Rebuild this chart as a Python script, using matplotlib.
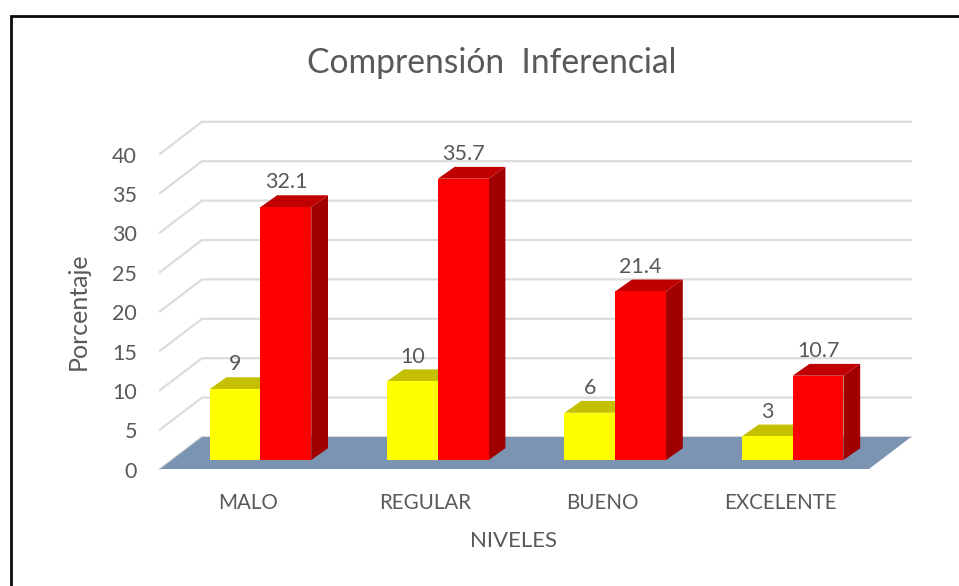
import matplotlib
matplotlib.use('Agg')
import matplotlib.pyplot as plt
from matplotlib.patches import Polygon

plt.rcParams['font.family'] = ['Lato', 'DejaVu Sans']

# values
niveles = ['MALO', 'REGULAR', 'BUENO', 'EXCELENTE']
serie_amarilla = [9, 10, 6, 3]
serie_roja = [32.1, 35.7, 21.4, 10.7]
etiquetas_y = [0, 5, 10, 15, 20, 25, 30, 35, 40]

TEXTO = '#595959'
GRID = '#dcdcdc'

# figure pixels -> data: 1 category = 177.4 px, 1 percent = 7.88 px
W, H = 959, 586
PX_X = 177.4
PX_Y = 7.88
X0 = 248.7   # pixel x of first category, front of the floor
Y0 = 469     # pixel y of value 0 at the front of the floor

# depth offset of the floor, from front to back
DX = 42 / PX_X
DY = 32 / PX_Y
# bars stand between these depths
D_FRONT = 0.28
D_BACK = 0.65
# bar width in category units
BAR_W = 50.8 / PX_X
EXTRA = 1.2 / PX_X  # bar sides lean a bit more than the floor


def proj(x, v, d):
    return x + d * DX, v + d * DY


def px_x(p):
    return (p - X0) / PX_X


def px_y(p):
    return (Y0 - p) / PX_Y


def caja(ax, x0, x1, v, front, top, side, z):
    # front, top and side of one bar
    cara = [proj(x0, 0, D_FRONT), proj(x1, 0, D_FRONT), proj(x1, v, D_FRONT), proj(x0, v, D_FRONT)]
    tapa = [proj(x0, v, D_FRONT), proj(x1, v, D_FRONT), proj(x1 + EXTRA, v, D_BACK), proj(x0 + EXTRA, v, D_BACK)]
    lado = [proj(x1, 0, D_FRONT), proj(x1 + EXTRA, 0, D_BACK), proj(x1 + EXTRA, v, D_BACK), proj(x1, v, D_FRONT)]
    ax.add_patch(Polygon(lado, closed=True, fc=side, ec='none', zorder=z))
    ax.add_patch(Polygon(tapa, closed=True, fc=top, ec='none', zorder=z))
    ax.add_patch(Polygon(cara, closed=True, fc=front, ec='none', zorder=z + 0.1))


def main():
    fig = plt.figure(figsize=(W / 100, H / 100), dpi=100)
    ax = fig.add_axes([0, 0, 1, 1])
    ax.set_xlim(px_x(0), px_x(W))
    ax.set_ylim(px_y(H), px_y(0))
    ax.axis('off')

    # outer frame of the chart, cut off on the right and at the bottom
    ax.plot([px_x(10.5), px_x(10.5), px_x(W)],
            [px_y(H), px_y(15.5), px_y(15.5)], color='#0a0a0a', lw=2, zorder=1, solid_joinstyle='miter')

    xl, xr = px_x(160), px_x(869)

    # gridlines: slanted side wall then back wall
    for v in etiquetas_y:
        xa, ya = proj(xl, v, 0)
        xb, yb = proj(xl, v, 1)
        xc, yc = proj(xr, v, 1)
        ax.plot([xa, xb, xc], [ya, yb, yc], color=GRID, lw=1.6, zorder=2, solid_joinstyle='miter')
        ax.text(px_x(137), v - 0.35, str(v), ha='right', va='center', fontsize=15.5, color=TEXTO)

    # floor
    piso = [proj(xl, 0, 0), proj(xr, 0, 0), proj(xr, 0, 1), proj(xl, 0, 1)]
    ax.add_patch(Polygon(piso, closed=True, fc='#7a94b2', ec='none', zorder=3))

    for i, nivel in enumerate(niveles):
        caja(ax, i - BAR_W, i, serie_amarilla[i], '#ffff00', '#c4c000', '#a5a500', 4 + i)
        caja(ax, i, i + BAR_W, serie_roja[i], '#ff0000', '#c00000', '#a00000', 4.3 + i)
        xa, _ = proj(i - BAR_W / 2, 0, D_FRONT)
        xr_bar, _ = proj(i + BAR_W / 2, 0, D_FRONT)
        ax.text(xa, serie_amarilla[i] + 3.0, str(serie_amarilla[i]), ha='center', va='bottom',
                fontsize=15.5, color=TEXTO, zorder=20)
        ax.text(xr_bar, serie_roja[i] + 3.0, str(serie_roja[i]), ha='center', va='bottom',
                fontsize=15.5, color=TEXTO, zorder=20)
        ax.text(i - 0.005, px_y(503), nivel, ha='center', va='center', fontsize=14.8, color=TEXTO)

    ax.text(px_x(492), px_y(63), 'Comprensión  Inferencial', ha='center', va='center',
            fontsize=24.2, color=TEXTO)
    ax.text(px_x(514), px_y(541), 'NIVELES', ha='center', va='center', fontsize=16, color=TEXTO)
    ax.text(px_x(78), px_y(311), 'Porcentaje', ha='center', va='center', rotation=90,
            fontsize=18, color=TEXTO)

    fig.savefig('out.png', dpi=100)


if __name__ == '__main__':
    main()
